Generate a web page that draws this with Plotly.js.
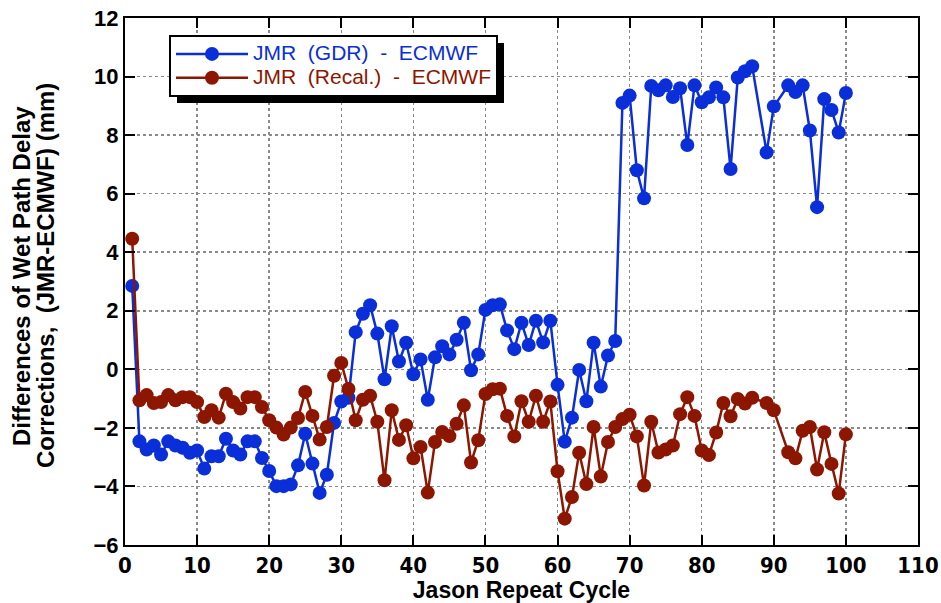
<!DOCTYPE html>
<html>
<head>
<meta charset="utf-8">
<script src="https://cdn.plot.ly/plotly-3.0.1.min.js"></script>
<style>html,body{margin:0;padding:0;background:#fff;}#chart{width:941px;height:603px;}</style>
</head>
<body>
<div id="chart"></div>
<script>
// Jason repeat cycles (88 and 91 absent in the reference)
var cycles = [1,2,3,4,5,6,7,8,9,10,11,12,13,14,15,16,17,18,19,20,
  21,22,23,24,25,26,27,28,29,30,31,32,33,34,35,36,37,38,39,40,
  41,42,43,44,45,46,47,48,49,50,51,52,53,54,55,56,57,58,59,60,
  61,62,63,64,65,66,67,68,69,70,71,72,73,74,75,76,77,78,79,80,
  81,82,83,84,85,86,87,89,90,92,93,94,95,96,97,98,99,100];

var gdrMinusEcmwf = [2.85,-2.46,-2.74,-2.6,-2.91,-2.46,-2.6,-2.68,-2.85,-2.77,
  -3.39,-2.97,-2.97,-2.37,-2.77,-2.91,-2.46,-2.46,-3.03,-3.47,
  -3.99,-3.99,-3.93,-3.28,-2.2,-3.22,-4.22,-3.6,-1.83,-1.1,
  -0.97,1.27,1.9,2.19,1.22,-0.34,1.47,0.27,0.91,-0.17,
  0.34,-1.04,0.41,0.79,0.51,1.01,1.59,-0.03,0.51,2.03,
  2.19,2.22,1.33,0.69,1.59,0.83,1.66,0.92,1.66,-0.53,
  -2.47,-1.65,-0.02,-1.09,0.91,-0.59,0.47,0.97,9.1,9.35,
  6.8,5.84,9.68,9.53,9.7,9.3,9.6,7.66,9.7,9.12,
  9.29,9.63,9.29,6.84,9.97,10.18,10.35,7.41,8.98,9.7,
  9.47,9.7,8.16,5.54,9.23,8.86,8.09,9.44];

var recalMinusEcmwf = [4.46,-1.06,-0.88,-1.15,-1.12,-0.88,-1.06,-0.95,-0.95,-1.12,
  -1.63,-1.4,-1.65,-0.83,-1.12,-1.34,-0.95,-0.95,-1.29,-1.74,
  -1.99,-2.23,-1.99,-1.66,-0.77,-1.59,-2.4,-1.97,-0.22,0.22,
  -0.67,-1.74,-1.04,-0.9,-1.79,-3.79,-1.4,-2.41,-1.91,-3.04,
  -2.65,-4.21,-2.48,-2.14,-2.28,-1.86,-1.23,-3.18,-2.42,-0.84,
  -0.68,-0.66,-1.59,-2.29,-1.09,-1.79,-0.9,-1.79,-1.1,-3.48,
  -5.1,-4.36,-2.85,-3.92,-1.97,-3.66,-2.48,-1.97,-1.7,-1.55,
  -2.29,-3.97,-1.79,-2.84,-2.74,-2.6,-1.53,-0.95,-1.59,-2.77,
  -2.93,-2.16,-1.15,-1.6,-1.01,-1.17,-0.97,-1.15,-1.4,-2.83,
  -3.04,-2.1,-1.97,-3.42,-2.15,-3.23,-4.24,-2.22];

var seriesNames = ['JMR (GDR) - ECMWF', 'JMR (Recal.) - ECMWF'];
var xTickVals = [0,10,20,30,40,50,60,70,80,90,100,110];
var yTickVals = [-6,-4,-2,0,2,4,6,8,10,12];
var yTitleLines = ['Differences of Wet Path Delay', 'Corrections,\u00a0\u00a0(JMR-ECMWF) (mm)'];
var xTitle = 'Jason Repeat Cycle';

var BLUE = '#0a2ed8';
var RED = '#8c1600';
var FONT = 'Liberation Sans, Arial, Helvetica, sans-serif';
var NARROW = 'Liberation Sans Narrow, Arial Narrow, DejaVu Sans Condensed, sans-serif';

function spaced(s){ return s.replace(/ /g, '\u00a0\u00a0'); }
function legendName(s, c){ return '<span style="font-size:21px;color:' + c + '">' + spaced(s) + '</span>'; }

var traces = [
  {x: cycles, y: gdrMinusEcmwf, type: 'scatter', mode: 'lines+markers',
   name: legendName(seriesNames[0], BLUE),
   line: {color: BLUE, width: 2.5}, marker: {color: BLUE, size: 14}},
  {x: cycles, y: recalMinusEcmwf, type: 'scatter', mode: 'lines+markers',
   name: legendName(seriesNames[1], RED),
   line: {color: RED, width: 2.5}, marker: {color: RED, size: 14}}
];

var L = 125, R = 23, T = 18, B = 58;
var W = 941, H = 603;
function px2x(p){ return (p - L) / (W - L - R); }
function px2y(p){ return 1 - (p - T) / (H - T - B); }

var layout = {
  width: W, height: H,
  margin: {l: L, r: R, t: T, b: B},
  paper_bgcolor: '#fff', plot_bgcolor: '#fff',
  font: {family: FONT, color: '#000'},
  showlegend: true,
  legend: {
    x: px2x(169), y: px2y(35), xanchor: 'left', yanchor: 'top',
    bgcolor: '#fff', bordercolor: '#000', borderwidth: 2,
    font: {family: FONT, size: 16},
    itemwidth: 72, tracegroupgap: 0
  },
  xaxis: {
    range: [0, 110], tickmode: 'array', tickvals: xTickVals,
    ticks: 'inside', ticklen: 10, tickwidth: 2, tickcolor: '#000',
    showline: true, linecolor: '#000', linewidth: 2, mirror: 'ticks',
    showgrid: true, gridcolor: '#8a8a8a', griddash: 'dot', gridwidth: 1.5,
    zeroline: false,
    tickfont: {family: NARROW, size: 22, weight: 'bold'},
    title: {text: xTitle, font: {family: FONT, size: 23, weight: 'bold'}, standoff: 3}
  },
  yaxis: {
    range: [-6, 12], tickmode: 'array', tickvals: yTickVals,
    ticks: 'inside', ticklen: 10, tickwidth: 2, tickcolor: '#000',
    showline: true, linecolor: '#000', linewidth: 2, mirror: 'ticks',
    showgrid: true, gridcolor: '#8a8a8a', griddash: 'dot', gridwidth: 1.5,
    zeroline: false,
    tickfont: {family: FONT, size: 22, weight: 'bold'}
  },
  annotations: [
    {text: yTitleLines[0], xref: 'paper', yref: 'paper', x: px2x(22), y: px2y(276),
     xanchor: 'center', yanchor: 'middle', textangle: -90, showarrow: false,
     font: {family: FONT, size: 24, weight: 'bold', color: '#000'}},
    {text: yTitleLines[1], xref: 'paper', yref: 'paper', x: px2x(46), y: px2y(276),
     xanchor: 'center', yanchor: 'middle', textangle: -90, showarrow: false,
     font: {family: FONT, size: 24, weight: 'bold', color: '#000'}}
  ],
  shapes: []
};

var gd = document.getElementById('chart');
Plotly.newPlot(gd, traces, layout, {displayModeBar: false, staticPlot: true}).then(function(){
  var bg = gd.querySelector('.legend .bg');
  if (!bg) return;
  var r = bg.getBoundingClientRect();
  var c = gd.getBoundingClientRect();
  var left = r.left - c.left, top = r.top - c.top;
  var off = 7;
  return Plotly.relayout(gd, {shapes: [
    {type: 'rect', xref: 'paper', yref: 'paper', layer: 'above',
     x0: px2x(left + off), x1: px2x(left + r.width + off),
     y0: px2y(top + r.height + off), y1: px2y(top + off),
     fillcolor: '#000', line: {width: 0}}
  ]});
});
</script>
</body>
</html>
